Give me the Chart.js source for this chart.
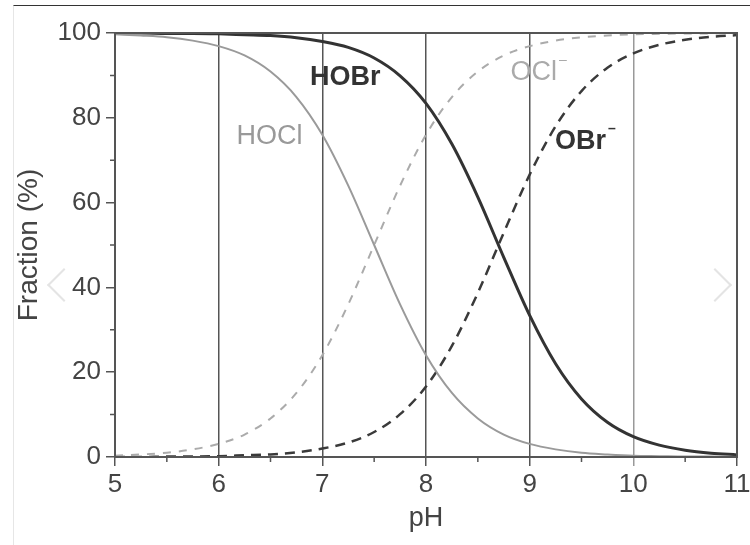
<!DOCTYPE html>
<html>
<head>
<meta charset="utf-8">
<script src="https://cdn.jsdelivr.net/npm/chart.js@4"></script>
<style>
  body { margin: 0; background: #fff; }
  #wrap { position: relative; width: 750px; height: 545px; overflow: hidden; }
  #frame { position: absolute; left: 13px; top: 5px; right: 0; bottom: 0;
           border-top: 1px solid #333; border-left: 1px solid #e6e6e6; }
  .chev { position: absolute; width: 22px; height: 22px; border-color: #e4e4e4;
          border-style: solid; border-width: 0; }
  #chevL { left: 52px; top: 273px; border-left-width: 2px; border-bottom-width: 2px; transform: rotate(45deg); }
  #chevR { left: 703px; top: 273px; border-right-width: 2px; border-top-width: 2px; transform: rotate(45deg); }
  canvas { position: absolute; left: 0; top: 0; }
</style>
</head>
<body>
<div id="wrap">
  <div id="frame"></div>
  <div class="chev" id="chevL"></div>
  <div class="chev" id="chevR"></div>
  <canvas id="chart" width="750" height="545"></canvas>
</div>
<script>
// pH values (x) and fraction (%)
const pH = [5, 5.25, 5.5, 5.75, 6, 6.25, 6.5, 6.75, 7, 7.25, 7.5, 7.75, 8,
            8.25, 8.5, 8.75, 9, 9.25, 9.5, 9.75, 10, 10.25, 10.5, 10.75, 11];

const hocl = [99.7, 99.4, 99.0, 98.2, 96.9, 94.7, 90.9, 84.9, 76.0, 64.0, 50.0, 36.0, 24.0,
              15.1, 9.1, 5.3, 3.1, 1.8, 1.0, 0.6, 0.3, 0.2, 0.1, 0.1, 0.0];
const ocl = [0.3, 0.6, 1.0, 1.8, 3.1, 5.3, 9.1, 15.1, 24.0, 36.0, 50.0, 64.0, 76.0,
             84.9, 90.9, 94.7, 96.9, 98.2, 99.0, 99.4, 99.7, 99.8, 99.9, 99.9, 100.0];
const hobr = [100.0, 100.0, 99.9, 99.9, 99.8, 99.6, 99.4, 98.9, 98.0, 96.6, 94.1, 89.9, 83.4,
              73.8, 61.3, 47.1, 33.4, 22.0, 13.7, 8.2, 4.8, 2.8, 1.6, 0.9, 0.5];
const obr = [0.0, 0.0, 0.1, 0.1, 0.2, 0.4, 0.6, 1.1, 2.0, 3.4, 5.9, 10.1, 16.6,
             26.2, 38.7, 52.9, 66.6, 78.0, 86.3, 91.8, 95.2, 97.2, 98.4, 99.1, 99.5];

const xTicks = [5, 6, 7, 8, 9, 10, 11];
const yTicks = [0, 20, 40, 60, 80, 100];

// curve labels, placed in data coordinates
const labels = [
  { text: 'HOBr', sup: '', x: 7.22, y: 89.4, bold: true, color: '#333' },
  { text: 'HOCl', sup: '', x: 6.49, y: 75.5, bold: false, color: '#999' },
  { text: 'OCl', sup: '-', x: 9.04, y: 90.6, bold: false, color: '#aaa' },
  { text: 'OBr', sup: '-', x: 9.49, y: 74.3, bold: true, color: '#333' }
];

const FONT = '"Liberation Sans", Arial, sans-serif';

function pts(ys) {
  return pH.map((x, i) => ({ x: x, y: ys[i] }));
}

const framePlugin = {
  id: 'frame',
  afterDatasetsDraw(chart) {
    const ctx = chart.ctx;
    const a = chart.chartArea;
    const xs = chart.scales.x, ys = chart.scales.y;
    ctx.save();
    // minor ticks
    ctx.strokeStyle = '#555';
    ctx.lineWidth = 1.5;
    ctx.beginPath();
    for (let v = 10; v < 100; v += 20) {
      const py = ys.getPixelForValue(v);
      ctx.moveTo(a.left - 5, py);
      ctx.lineTo(a.left, py);
    }
    for (let v = 5.5; v < 11; v += 1) {
      const px = xs.getPixelForValue(v);
      ctx.moveTo(px, a.bottom);
      ctx.lineTo(px, a.bottom + 5);
    }
    ctx.stroke();
    // box
    ctx.lineWidth = 2;
    ctx.strokeStyle = '#555';
    ctx.strokeRect(a.left, a.top, a.right - a.left, a.bottom - a.top);
    // curve labels
    labels.forEach(l => {
      ctx.font = (l.bold ? 'bold ' : '') + '27px ' + FONT;
      ctx.fillStyle = l.color;
      ctx.textAlign = 'center';
      ctx.textBaseline = 'middle';
      const px = xs.getPixelForValue(l.x), py = ys.getPixelForValue(l.y);
      ctx.fillText(l.text, px, py);
      if (l.sup) {
        const w = ctx.measureText(l.text).width;
        ctx.font = (l.bold ? 'bold ' : '') + '14px ' + FONT;
        ctx.textAlign = 'left';
        ctx.fillText('\u2013', px + w / 2 + 2, py - 13);
      }
    });
    ctx.restore();
  }
};

new Chart(document.getElementById('chart'), {
  type: 'line',
  data: {
    datasets: [
      { label: 'HOCl', data: pts(hocl), borderColor: '#9a9a9a', borderWidth: 2 },
      { label: 'OCl-', data: pts(ocl), borderColor: '#ababab', borderWidth: 2, borderDash: [8, 8] },
      { label: 'HOBr', data: pts(hobr), borderColor: '#333', borderWidth: 3 },
      { label: 'OBr-', data: pts(obr), borderColor: '#3a3a3a', borderWidth: 2.5, borderDash: [10, 7] }
    ]
  },
  options: {
    responsive: false,
    animation: false,
    layout: { padding: { left: 0, top: 33, right: 13, bottom: 10 } },
    elements: {
      point: { radius: 0 },
      line: { cubicInterpolationMode: 'monotone', fill: false }
    },
    plugins: { legend: { display: false }, tooltip: { enabled: false } },
    scales: {
      x: {
        type: 'linear',
        min: 5, max: 11,
        afterBuildTicks: s => { s.ticks = xTicks.map(v => ({ value: v })); },
        afterFit: s => { s.height = 78; s.paddingLeft = 0; s.paddingRight = 0; },
        border: { display: false },
        grid: {
          color: c => (c.tick && c.tick.value === 10) ? '#999' : '#555',
          lineWidth: 1.5,
          tickLength: 9
        },
        ticks: { color: '#444', font: { family: FONT, size: 26 }, padding: 3, maxRotation: 0 },
        title: { display: true, text: 'pH', color: '#444', font: { family: FONT, size: 27 }, padding: { top: 0, bottom: 0 } }
      },
      y: {
        min: 0, max: 100,
        afterBuildTicks: s => { s.ticks = yTicks.map(v => ({ value: v })); },
        afterFit: s => { s.width = 115; },
        border: { display: false },
        grid: { drawOnChartArea: false, color: '#555', lineWidth: 1.5, tickLength: 9 },
        ticks: { color: '#444', font: { family: FONT, size: 26 }, padding: 5 },
        title: { display: true, text: 'Fraction (%)', color: '#444', font: { family: FONT, size: 28 }, padding: { top: 12, bottom: 0 } }
      }
    }
  },
  plugins: [framePlugin]
});
</script>
</body>
</html>
